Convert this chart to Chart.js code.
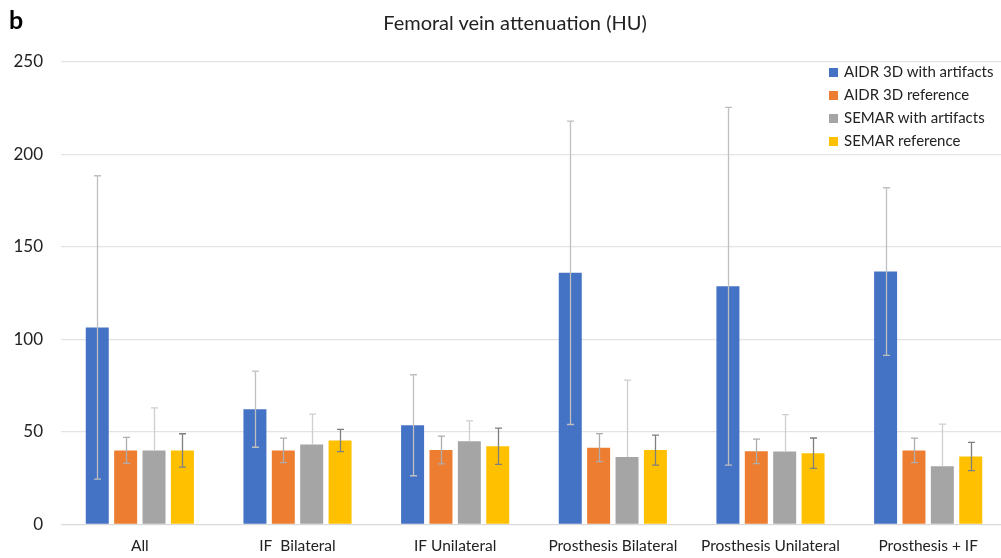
<!DOCTYPE html>
<html>
<head>
<meta charset="utf-8">
<script src="https://cdn.jsdelivr.net/npm/chart.js@4/dist/chart.umd.min.js"></script>
<style>
  body { margin: 0; background: #fff; overflow: hidden; font-family: Lato, "Open Sans", sans-serif; }
  #wrap { position: relative; width: 1007px; height: 558px; overflow: hidden; }
  #panel { position: absolute; left: 9px; top: 4px; font-size: 25px; font-weight: bold; color: #000; }
  #title { position: absolute; left: 0; width: 1030px; top: 10px; text-align: center; font-size: 20px; color: #222; }
  #legend { position: absolute; left: 829px; top: 62px; font-size: 15px; color: #222; }
  #legend div { height: 23px; line-height: 18px; white-space: nowrap; }
  #legend span { display: inline-block; width: 9px; height: 9px; margin-right: 6px; vertical-align: 0px; }
</style>
</head>
<body>
<div id="wrap">
  <canvas id="chart" width="1007" height="567"></canvas>
  <div id="panel">b</div>
  <div id="title">Femoral vein attenuation (HU)</div>
  <div id="legend"></div>
</div>
<script>
var categories = ['All', 'IF  Bilateral', 'IF Unilateral', 'Prosthesis Bilateral', 'Prosthesis Unilateral', 'Prosthesis + IF'];
var seriesNames = ['AIDR 3D with artifacts', 'AIDR 3D reference', 'SEMAR with artifacts', 'SEMAR reference'];

var aidrArtifacts = [106.5, 62.3, 53.6, 136, 128.8, 136.7];
var aidrReference = [40, 40, 40.2, 41.5, 39.5, 40];
var semarArtifacts = [40, 43.2, 45, 36.4, 39.4, 31.5];
var semarReference = [40, 45.4, 42.3, 40.2, 38.5, 36.7];

var aidrArtifactsSd = [82, 20.6, 27.3, 82, 96.7, 45.3];
var aidrReferenceSd = [7, 6.6, 7.5, 7.6, 6.6, 6.6];
var semarArtifactsSd = [23, 16.4, 11, 41.6, 20, 22.7];
var semarReferenceSd = [9, 6, 9.8, 8.1, 8.2, 7.6];

var yTicks = [0, 50, 100, 150, 200, 250];

var barColors = ['#4472C4', '#ED7D31', '#A5A5A5', '#FFC000'];
var errColors = ['#BFBFBF', '#ADADAD', '#CFCFCF', '#7F7F7F'];
// SEMAR with artifacts only shows the upper half of its error bar
var errPlusOnly = [false, false, true, false];

var values = [aidrArtifacts, aidrReference, semarArtifacts, semarReference];
var errors = [aidrArtifactsSd, aidrReferenceSd, semarArtifactsSd, semarReferenceSd];

var datasets = [];
for (var i = 0; i < seriesNames.length; i++) {
  datasets.push({
    label: seriesNames[i],
    data: values[i],
    errors: errors[i],
    errColor: errColors[i],
    plusOnly: errPlusOnly[i],
    backgroundColor: barColors[i],
    borderWidth: 0
  });
}

// error bars drawn on top of the bars, like the original
var errorBars = {
  id: 'errorBars',
  afterDatasetsDraw: function(chart) {
    var ctx = chart.ctx;
    var y = chart.scales.y;
    chart.data.datasets.forEach(function(ds, di) {
      var meta = chart.getDatasetMeta(di);
      meta.data.forEach(function(bar, i) {
        var top = y.getPixelForValue(ds.data[i] + ds.errors[i]);
        var bot = ds.plusOnly ? y.getPixelForValue(ds.data[i]) : y.getPixelForValue(ds.data[i] - ds.errors[i]);
        var x = Math.round(bar.x) + 0.5;
        ctx.save();
        ctx.strokeStyle = ds.errColor;
        ctx.lineWidth = 1.3;
        ctx.beginPath();
        ctx.moveTo(x, top); ctx.lineTo(x, bot);
        ctx.moveTo(x - 3.5, top); ctx.lineTo(x + 3.5, top);
        if (!ds.plusOnly) {
          ctx.moveTo(x - 3.5, bot); ctx.lineTo(x + 3.5, bot);
        }
        ctx.stroke();
        ctx.restore();
      });
    });
  }
};

new Chart(document.getElementById('chart'), {
  type: 'bar',
  data: { labels: categories, datasets: datasets },
  plugins: [errorBars],
  options: {
    responsive: false,
    animation: false,
    layout: { padding: { top: 62, right: 0, bottom: 0, left: 0 } },
    datasets: { bar: { categoryPercentage: 0.72, barPercentage: 0.81 } },
    plugins: {
      legend: { display: false },
      tooltip: { enabled: false }
    },
    scales: {
      x: {
        grid: { display: false, drawTicks: false },
        border: { color: '#D9D9D9', width: 1 },
        ticks: { color: '#222', font: { family: 'Lato', size: 15.5 }, padding: 12, maxRotation: 0, autoSkip: false }
      },
      y: {
        min: 0,
        max: 250,
        afterBuildTicks: function(s) { s.ticks = yTicks.map(function(v) { return { value: v }; }); },
        afterFit: function(s) { s.width = 61; },
        grid: { color: '#E3E3E3', lineWidth: 1.3, drawTicks: false },
        border: { display: false },
        ticks: { color: '#222', font: { family: 'Lato', size: 17 }, padding: 18 }
      }
    }
  }
});

var legend = document.getElementById('legend');
seriesNames.forEach(function(name, i) {
  var row = document.createElement('div');
  var box = document.createElement('span');
  box.style.background = barColors[i];
  row.appendChild(box);
  row.appendChild(document.createTextNode(name));
  legend.appendChild(row);
});
</script>
</body>
</html>
